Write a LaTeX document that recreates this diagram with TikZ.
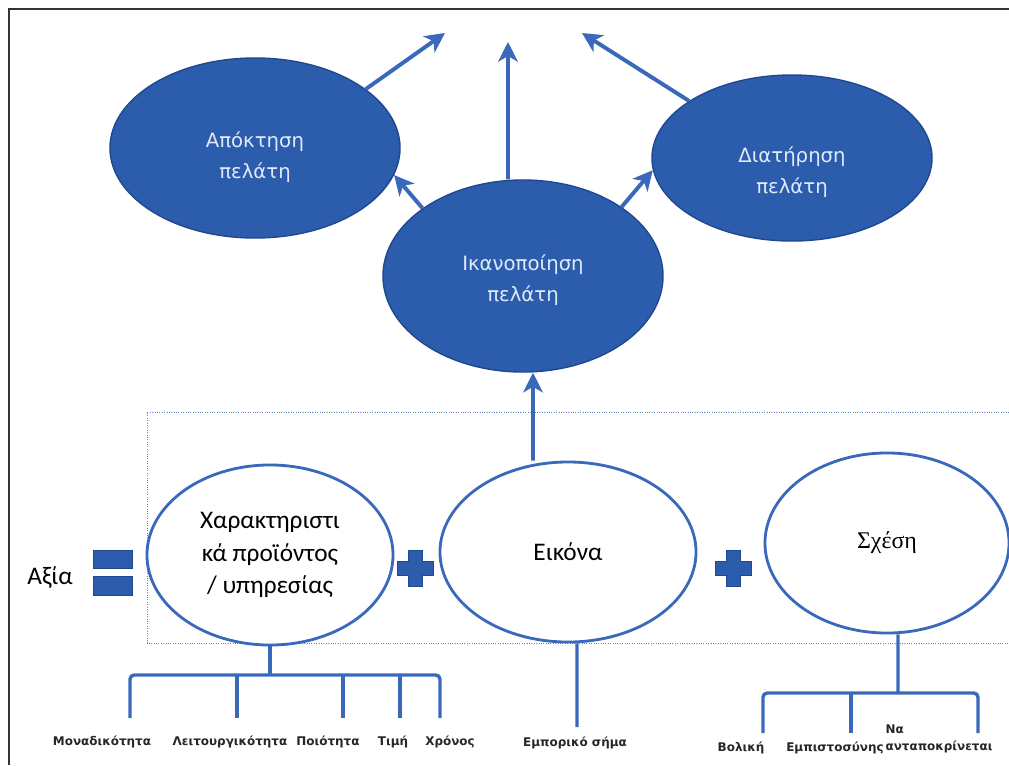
\documentclass[tikz,border=0pt]{standalone}
\usepackage{fontspec}
\setmainfont{Carlito}
\newfontfamily\dejavu{DejaVu Sans}
\newfontfamily\grserif{Liberation Serif}
\usetikzlibrary{positioning,shapes.geometric,arrows.meta}

\definecolor{custblue}{RGB}{44,92,172}
\definecolor{custedge}{RGB}{32,72,145}
\definecolor{custline}{RGB}{58,104,186}
\definecolor{custtext}{RGB}{224,234,248}

\begin{document}
\begin{tikzpicture}[
            x=0.025cm,y=-0.025cm,
            >={Stealth[length=14pt,width=14pt,inset=4pt]},
            goalnode/.style={ellipse, draw=custedge, fill=custblue, line width=1pt, inner sep=0pt},
            goaltext/.style={text=custtext, align=center, font=\dejavu\fontsize{14}{22}\selectfont},
            valuenode/.style={ellipse, draw=custline, fill=white, line width=2pt, align=center, inner sep=0pt, font=\fontsize{18}{23}\selectfont},
            itemnode/.style={text=black!85, align=left, font=\dejavu\bfseries\fontsize{8.5}{12}\selectfont},
            eqbar/.style={rectangle, fill=custblue, draw=custedge, line width=0.6pt, minimum width=0.975cm, minimum height=0.47cm, inner sep=0pt},
            arrowline/.style={->, custline, line width=2.8pt},
            treeline/.style={custline, line width=2.4pt, rounded corners=3pt},
            ]
            \useasboundingbox (0,0) rectangle (1009,765);
            % Frame and dotted box
            \draw[black!80, line width=2pt] (9,765) -- (9,9) -- (1009,9);
            \draw[custline!80, densely dotted, line width=0.7pt] (1009,412) -| (147,643) -- (1009,643);
            
            % Nodes
            \node[goalnode, minimum width=7.25cm, minimum height=4.5cm,
                label={[goaltext, yshift=-0.22cm]center:{Απόκτηση\\πελάτη}}] (apoktisi) at (255,148) {};
            \node[goalnode, minimum width=7cm, minimum height=4.15cm,
                label={[goaltext, yshift=-0.35cm]center:{Διατήρηση\\πελάτη}}] (diatirisi) at (792,158) {};
            \node[goalnode, minimum width=7cm, minimum height=4.8cm,
                label={[goaltext, yshift=-0.1cm]center:{Ικανοποίηση\\πελάτη}}] (ikanop) at (523,276) {};
            
            \node[valuenode, minimum width=6.15cm, minimum height=4.5cm] (xarakt) at (270,555) {Χαρακτηριστι\\κά προϊόντος\\/ υπηρεσίας};
            \node[valuenode, minimum width=6.4cm, minimum height=4.5cm] (eikona) at (568,552) {Εικόνα};
            \node[valuenode, minimum width=6.1cm, minimum height=4.5cm, font=\grserif\fontsize{17}{20}\selectfont] (sxesi) at (887,543) {Σχέση};
            
            \node[font=\fontsize{18}{20}\selectfont] (axia) at (50,578) {Αξία};
            \node[eqbar] (eqa) at (112.5,559.5) {};
            \node[eqbar] (eqb) at (112.5,586) {};
            \foreach \px in {415,733}
                \filldraw[fill=custblue, draw=custedge, line width=0.6pt, shift={(\px,568)}]
                    (-18,-7) -- (-7,-7) -- (-7,-18) -- (7,-18) -- (7,-7) -- (18,-7) -- (18,7) -- (7,7) -- (7,18) -- (-7,18) -- (-7,7) -- (-18,7) -- cycle;
            
            % Item labels
            \node[itemnode] (monad) at (102,742) {Μοναδικότητα};
            \node[itemnode] (leit) at (230,742) {Λειτουργικότητα};
            \node[itemnode] (poiot) at (328,742) {Ποιότητα};
            \node[itemnode] (timi) at (393,742) {Τιμή};
            \node[itemnode] (xronos) at (450,742) {Χρόνος};
            \node[itemnode] (empor) at (575,743) {Εμπορικό σήμα};
            \node[itemnode] (voliki) at (741,748) {Βολική};
            \node[itemnode] (empist) at (835,748) {Εμπιστοσύνης};
            \node[itemnode] (antap) at (939,739) {Να\\ανταποκρίνεται};
            
            % Arrows
            \coordinate (topa) at (445,33);
            \coordinate (topb) at (508,42);
            \coordinate (topc) at (582,33);
            \draw[arrowline] (apoktisi.28) -- (topa);
            \draw[arrowline] ([xshift=-3.75mm]ikanop.north) -- (topb);
            \draw[arrowline] (diatirisi.151) -- (topc);
            \draw[arrowline] (ikanop.146) -- (apoktisi.-11);
            \draw[arrowline] (ikanop.35) -- (diatirisi.185);
            \draw[arrowline] ([xshift=-8.75mm]eikona.north) -- ([xshift=2.5mm]ikanop.south);
            
            % Trees
            \coordinate (xbar) at (270,675);
            \coordinate (da) at (130,718);
            \coordinate (db) at (237,718);
            \coordinate (dc) at (343,718);
            \coordinate (dd) at (400,718);
            \coordinate (de) at (440,718);
            \draw[treeline] (xarakt.south) -- (xbar);
            \draw[treeline] (da) |- (xbar) -| (de);
            \foreach \d in {db,dc,dd}
                \draw[treeline] (\d |- xbar) -- (\d);
            
            \coordinate (emend) at (577,727);
            \draw[treeline] ([xshift=2.25mm]eikona.south) -- (emend);
            
            \coordinate (sbar) at (898,693);
            \coordinate (sa) at (763,733);
            \coordinate (sb) at (851,733);
            \coordinate (sc) at (978,733);
            \draw[treeline] ([xshift=2.75mm]sxesi.south) -- (sbar);
            \draw[treeline] (sa) |- (sbar) -| (sc);
            \draw[treeline] (sb |- sbar) -- (sb);
        \end{tikzpicture}
\end{document}
